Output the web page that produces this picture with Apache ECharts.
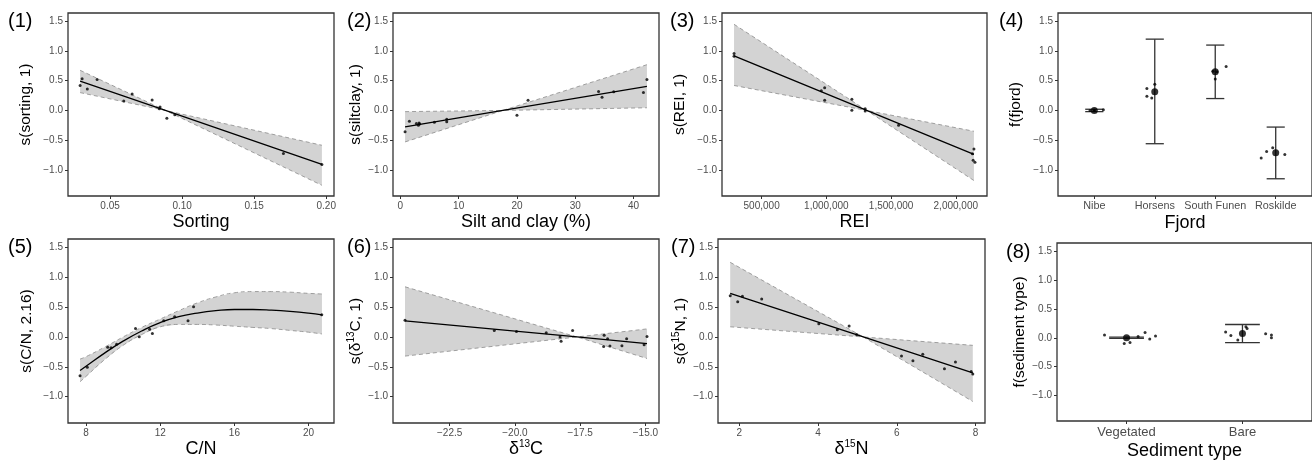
<!DOCTYPE html>
<html lang="en">
<head>
<meta charset="UTF-8">
<title>GAM partial effects</title>
<script src="https://cdn.jsdelivr.net/npm/echarts@6.0.0/dist/echarts.min.js"></script>
<style>
  html, body { margin: 0; padding: 0; background: #fff; }
  #chart { width: 1312px; height: 462px; }
</style>
</head>
<body>
<div id="chart"></div>
<script>

// (1) sorting
const sortX = [0.0292, 0.0306, 0.0342, 0.0410, 0.0595, 0.0653, 0.0792, 0.0842, 0.0847, 0.0894, 0.0949, 0.1703, 0.1970]
const sortY = [0.42, 0.535, 0.36, 0.52, 0.157, 0.275, 0.174, 0.028, 0.056, -0.13, -0.073, -0.726, -0.91]
const sortLineX = [0.0292, 0.0884, 0.1970]
const sortFit = [0.495, 0, -0.907]
const sortUpper = [0.676, 0, -0.586]
const sortLower = [0.30, 0, -1.26]

// (2) silt and clay
const siltX = [0.8, 1.54, 2.74, 3.09, 3.2, 3.3, 5.83, 7.95, 7.95, 20.0, 21.9, 34.0, 34.6, 36.6, 41.7, 42.3]
const siltY = [-0.36, -0.18, -0.22, -0.25, -0.21, -0.23, -0.2, -0.15, -0.19, -0.08, 0.17, 0.32, 0.22, 0.315, 0.30, 0.52]
const siltLineX = [0.8, 17.58, 42.3]
const siltFit = [-0.275, 0, 0.405]
const siltUpper = [-0.02, 0, 0.77]
const siltLower = [-0.53, 0, 0.045]

// (3) REI
const reiX = [287000, 287000, 961000, 987000, 987000, 1197000, 1197000, 1300000, 1300000, 1558000, 2140000, 2128000, 2134000, 2148000]
const reiY = [0.96, 0.91, 0.33, 0.38, 0.17, 0.19, 0.005, 0.03, -0.01, -0.25, -0.65, -0.73, -0.84, -0.87]
const reiLineX = [287000, 1311700, 2140000]
const reiFit = [0.92, 0, -0.74]
const reiUpper = [1.45, 0, -0.35]
const reiLower = [0.42, 0, -1.18]

// (4) fjord
const fjordNames = ['Nibe', 'Horsens', 'South Funen', 'Roskilde']
const fjordMean = [0, 0.315, 0.65, -0.71]
const fjordLow = [-0.02, -0.56, 0.20, -1.15]
const fjordHigh = [0.02, 1.20, 1.10, -0.28]
const fjordPtX = [0.93, 1.0, 1.15, 1.87, 1.87, 1.95, 2.0, 2.96, 3.03, 3.0, 3.18, 3.76, 3.85, 3.95, 4.15]
const fjordPtY = [0.0, 0.0, 0.01, 0.37, 0.24, 0.21, 0.44, 0.66, 0.65, 0.53, 0.74, -0.80, -0.69, -0.63, -0.74]

// (5) C/N
const cnX = [7.68, 8.07, 9.17, 9.35, 9.65, 10.67, 10.87, 11.43, 11.58, 12.19, 12.78, 13.5, 13.8, 20.71]
const cnY = [-0.647, -0.507, -0.17, -0.18, -0.12, 0.14, 0.002, 0.13, 0.057, 0.27, 0.337, 0.27, 0.505, 0.37]
const cnLineX = [7.68, 8, 9, 10, 11, 12, 13, 14, 15, 16, 17, 18, 19, 20, 20.72]
const cnFit = [-0.56, -0.49, -0.27, -0.07, 0.10, 0.24, 0.34, 0.40, 0.44, 0.46, 0.46, 0.45, 0.43, 0.40, 0.37]
const cnUpper = [-0.37, -0.33, -0.17, 0.0, 0.16, 0.30, 0.44, 0.57, 0.67, 0.74, 0.76, 0.76, 0.75, 0.73, 0.72]
const cnLower = [-0.75, -0.66, -0.38, -0.14, 0.04, 0.17, 0.21, 0.21, 0.20, 0.18, 0.16, 0.14, 0.11, 0.08, 0.05]

// (6) d13C
const c13X = [-24.21, -20.79, -19.94, -18.8, -18.27, -18.23, -17.79, -16.58, -16.6, -16.45, -16.36, -15.9, -15.72, -15.05, -14.94]
const c13Y = [0.28, 0.11, 0.09, 0.07, 0.0, -0.07, 0.11, 0.03, -0.16, -0.03, -0.15, -0.145, -0.03, -0.13, 0.01]
const c13LineX = [-24.21, -17.62, -14.94]
const c13Fit = [0.27, 0, -0.11]
const c13Upper = [0.84, 0, 0.135]
const c13Lower = [-0.32, 0, -0.36]

// (7) d15N
const n15X = [1.77, 1.96, 2.08, 2.57, 4.02, 4.49, 4.79, 4.98, 6.12, 6.41, 6.66, 7.21, 7.49, 7.89, 7.93]
const n15Y = [0.69, 0.59, 0.68, 0.635, 0.22, 0.12, 0.185, 0.04, -0.32, -0.40, -0.29, -0.53, -0.42, -0.58, -0.62]
const n15LineX = [1.77, 5.15, 7.93]
const n15Fit = [0.73, 0, -0.6]
const n15Upper = [1.25, 0, -0.14]
const n15Lower = [0.17, 0, -1.08]

// (8) sediment type
const sedNames = ['Vegetated', 'Bare']
const sedMean = [0.0, 0.072]
const sedLow = [-0.01, -0.085]
const sedHigh = [0.01, 0.23]
const sedPtX = [0.81, 0.98, 1.03, 1.10, 1.16, 1.20, 1.25, 1.855, 1.90, 1.96, 2.03, 2.04, 2.20, 2.25, 2.25]
const sedPtY = [0.05, -0.10, -0.08, 0.02, 0.09, -0.02, 0.03, 0.10, 0.04, -0.04, 0.19, 0.16, 0.07, 0.05, 0.0]

const yTicks = [-1, -0.5, 0, 0.5, 1, 1.5]

const FONT = '"Liberation Sans", Arial, sans-serif'
const TICK = '#4d4d4d'
const rich = { sup: { fontSize: 10, verticalAlign: 'top', lineHeight: 12 } }

const fmtDec = d => v => (v < 0 ? '\u2212' : '') + Math.abs(v).toFixed(d)

const grids = [
  { left: 68, top: 13, width: 266, height: 183 },
  { left: 393, top: 13, width: 266, height: 183 },
  { left: 722, top: 13, width: 265, height: 183 },
  { left: 1058, top: 13, width: 265, height: 183 },
  { left: 68, top: 239, width: 266, height: 184 },
  { left: 393, top: 239, width: 266, height: 184 },
  { left: 718, top: 239, width: 267, height: 184 },
  { left: 1057, top: 243, width: 265, height: 183 },
].map(g => Object.assign(g, { show: true, borderColor: '#333', borderWidth: 1.3 }))

const xAx = (i, min, max, ticks, fmt, name, gap) => ({
  type: 'value', gridIndex: i, min, max,
  axisLine: { show: false, onZero: false }, splitLine: { show: false },
  axisTick: { show: true, customValues: ticks, length: 3, lineStyle: { color: '#333' } },
  axisLabel: { customValues: ticks, formatter: fmt, color: TICK, fontSize: 10, margin: 5, fontFamily: FONT },
  name, nameLocation: 'middle', nameGap: gap,
  nameTextStyle: { fontSize: 18, color: '#000', fontFamily: FONT, lineHeight: 20, rich }
})

const yAx = (i, name, gap) => ({
  type: 'value', gridIndex: i, min: -1.44, max: 1.64,
  axisLine: { show: false, onZero: false }, splitLine: { show: false },
  axisTick: { show: true, customValues: yTicks, length: 3, lineStyle: { color: '#333' } },
  axisLabel: { customValues: yTicks, formatter: fmtDec(1), color: TICK, fontSize: 10, margin: 5, fontFamily: FONT },
  name, nameLocation: 'middle', nameGap: gap,
  nameTextStyle: { fontSize: 15.5, color: '#000', fontFamily: FONT, lineHeight: 18, rich }
})

const xAxes = [
  xAx(0, 0.0208, 0.2054, [0.05, 0.10, 0.15, 0.20], fmtDec(2), 'Sorting', 14),
  xAx(1, -1.27, 44.37, [0, 10, 20, 30, 40], v => String(v), 'Silt and clay (%)', 14),
  xAx(2, 194000, 2241000, [500000, 1000000, 1500000, 2000000], v => v.toLocaleString('en-US'), 'REI', 14),
  xAx(3, 0.4, 4.6, [1, 2, 3, 4], v => fjordNames[v - 1], 'Fjord', 14),
  xAx(4, 7.03, 21.37, [8, 12, 16, 20], v => String(v), 'C/N', 13),
  xAx(5, -24.67, -14.48, [-22.5, -20, -17.5, -15], fmtDec(1), '\u03b4{sup|13}C', 13),
  xAx(6, 1.46, 8.24, [2, 4, 6, 8], v => String(v), '\u03b4{sup|15}N', 13),
  xAx(7, 0.4, 2.6, [1, 2], v => sedNames[v - 1], 'Sediment type', 20),
]
xAxes[3].axisLabel.fontSize = 10.8
xAxes[7].axisLabel.fontSize = 13

const yAxes = [
  yAx(0, 's(sorting, 1)', 33),
  yAx(1, 's(siltclay, 1)', 28),
  yAx(2, 's(REI, 1)', 33),
  yAx(3, 'f(fjord)', 33),
  yAx(4, 's(C/N, 2.16)', 32),
  yAx(5, 's(\u03b4{sup|13}C, 1)', 25),
  yAx(6, 's(\u03b4{sup|15}N, 1)', 27),
  yAx(7, 'f(sediment type)', 27),
]

const zip = (a, b) => a.map((v, i) => [v, b[i]])

// confidence band as a polygon built from the axis scales
const band = (i, xs, up, lo) => ({
  type: 'custom', xAxisIndex: i, yAxisIndex: i, silent: true, z: 1,
  data: [[xs[0], up[0]]],
  renderItem: (params, api) => {
    const top = xs.map((x, k) => api.coord([x, up[k]]))
    const bot = xs.map((x, k) => api.coord([x, lo[k]])).reverse()
    return { type: 'polygon', shape: { points: top.concat(bot) }, style: { fill: '#d3d3d3' } }
  }
})

const edge = (i, xs, ys, smooth) => ({
  type: 'line', xAxisIndex: i, yAxisIndex: i, data: zip(xs, ys), symbol: 'none', smooth: smooth || false,
  silent: true, z: 2, lineStyle: { color: '#8a8a8a', width: 0.8, type: [4, 3] }
})

const fit = (i, xs, ys, smooth) => ({
  type: 'line', xAxisIndex: i, yAxisIndex: i, data: zip(xs, ys), symbol: 'none', smooth: smooth || false,
  silent: true, z: 3, lineStyle: { color: '#000', width: 1.3 }
})

const dots = (i, xs, ys, size) => ({
  type: 'scatter', xAxisIndex: i, yAxisIndex: i, data: zip(xs, ys), symbolSize: size || 3,
  silent: true, z: 4, itemStyle: { color: '#000' }
})

const errbar = (i, lo, hi) => ({
  type: 'custom', xAxisIndex: i, yAxisIndex: i, silent: true, z: 3,
  data: lo.map((v, k) => [k + 1, v, hi[k]]),
  encode: { x: 0, y: [1, 2] },
  renderItem: (params, api) => {
    const x = api.value(0)
    const a = api.coord([x, api.value(2)])
    const b = api.coord([x, api.value(1)])
    const w = api.size([0.3, 0])[0] / 2
    const st = { stroke: '#333', lineWidth: 1.3 }
    return {
      type: 'group', children: [
        { type: 'line', shape: { x1: a[0], y1: a[1], x2: b[0], y2: b[1] }, style: st },
        { type: 'line', shape: { x1: a[0] - w, y1: a[1], x2: a[0] + w, y2: a[1] }, style: st },
        { type: 'line', shape: { x1: b[0] - w, y1: b[1], x2: b[0] + w, y2: b[1] }, style: st },
      ]
    }
  }
})

const smoothPanel = (i, px, py, lx, f, u, l, sm) => [
  band(i, lx, u, l), edge(i, lx, u, sm), edge(i, lx, l, sm), fit(i, lx, f, sm), dots(i, px, py)
]

const series = [].concat(
  smoothPanel(0, sortX, sortY, sortLineX, sortFit, sortUpper, sortLower),
  smoothPanel(1, siltX, siltY, siltLineX, siltFit, siltUpper, siltLower),
  smoothPanel(2, reiX, reiY, reiLineX, reiFit, reiUpper, reiLower),
  [errbar(3, fjordLow, fjordHigh), dots(3, fjordPtX, fjordPtY), dots(3, [1, 2, 3, 4], fjordMean, 7)],
  smoothPanel(4, cnX, cnY, cnLineX, cnFit, cnUpper, cnLower, true),
  smoothPanel(5, c13X, c13Y, c13LineX, c13Fit, c13Upper, c13Lower),
  smoothPanel(6, n15X, n15Y, n15LineX, n15Fit, n15Upper, n15Lower),
  [errbar(7, sedLow, sedHigh), dots(7, sedPtX, sedPtY), dots(7, [1, 2], sedMean, 7)]
)

const tags = [['(1)', 8, 11], ['(2)', 347, 11], ['(3)', 670, 11], ['(4)', 999, 11],
  ['(5)', 8, 237], ['(6)', 347, 237], ['(7)', 671, 237], ['(8)', 1006, 242]]

const myChart = echarts.init(document.getElementById('chart'), null, { renderer: 'canvas' })

myChart.setOption({
  animation: false,
  textStyle: { fontFamily: FONT },
  grid: grids,
  xAxis: xAxes,
  yAxis: yAxes,
  series,
  graphic: tags.map(t => ({
    type: 'text', left: t[1], top: t[2],
    style: { text: t[0], fontSize: 20, fill: '#000', fontFamily: FONT }
  }))
})

</script>
</body>
</html>
